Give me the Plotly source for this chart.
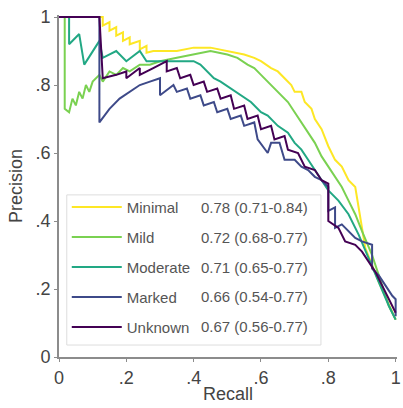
import plotly.graph_objects as go

names = ["Minimal", "Mild", "Moderate", "Marked", "Unknown"]
auc_text = ["0.78 (0.71-0.84)", "0.72 (0.68-0.77)", "0.71 (0.65-0.77)",
            "0.66 (0.54-0.77)", "0.67 (0.56-0.77)"]
colors = ["#fde725", "#7ad151", "#22a884", "#3e4a89", "#440154"]

minimal_r = [0, 0.13, 0.13, 0.15, 0.15, 0.17, 0.17, 0.19, 0.19, 0.21, 0.21, 0.24, 0.24, 0.26, 0.26,
             0.28, 0.35, 0.40, 0.45, 0.50, 0.55, 0.58, 0.60, 0.63, 0.65, 0.67, 0.69, 0.70, 0.72,
             0.73, 0.75, 0.76, 0.78, 0.80, 0.82, 0.84, 0.86, 0.88, 0.89, 0.91, 0.95, 0.99, 1.0]
minimal_p = [1, 1, 0.975, 0.985, 0.96, 0.97, 0.945, 0.955, 0.93, 0.94, 0.92, 0.93, 0.905, 0.915, 0.895,
             0.90, 0.90, 0.91, 0.91, 0.90, 0.89, 0.88, 0.87, 0.85, 0.84, 0.82, 0.80, 0.78, 0.78,
             0.75, 0.73, 0.70, 0.67, 0.62, 0.58, 0.56, 0.52, 0.50, 0.44, 0.32, 0.22, 0.13, 0.11]

mild_r = [0, 0.017, 0.017, 0.03, 0.04, 0.05, 0.06, 0.07, 0.08, 0.09, 0.10, 0.12, 0.13, 0.15, 0.17,
          0.19, 0.21, 0.24, 0.27, 0.30, 0.35, 0.40, 0.45, 0.50, 0.53, 0.56, 0.58, 0.60, 0.62, 0.64,
          0.66, 0.68, 0.70, 0.72, 0.74, 0.76, 0.78, 0.80, 0.82, 0.84, 0.86, 0.88, 0.90, 0.93, 0.96,
          0.98, 1.0]
mild_p = [1, 1, 0.73, 0.72, 0.76, 0.74, 0.78, 0.76, 0.80, 0.78, 0.81, 0.83, 0.81, 0.84, 0.83,
          0.85, 0.84, 0.86, 0.86, 0.87, 0.88, 0.89, 0.90, 0.89, 0.88, 0.86, 0.85, 0.83, 0.81, 0.79,
          0.77, 0.75, 0.72, 0.69, 0.66, 0.63, 0.59, 0.56, 0.53, 0.50, 0.46, 0.42, 0.37, 0.30, 0.21,
          0.15, 0.11]

moderate_r = [0, 0.03, 0.03, 0.06, 0.075, 0.10, 0.12, 0.13, 0.17, 0.20, 0.24, 0.26, 0.30, 0.35,
              0.40, 0.42, 0.44, 0.46, 0.48, 0.51, 0.54, 0.57, 0.60, 0.62, 0.65, 0.68, 0.70, 0.72,
              0.74, 0.76, 0.78, 0.80, 0.83, 0.86, 0.89, 0.92, 0.95, 0.98, 1.0]
moderate_p = [1, 1, 0.92, 0.95, 0.86, 0.90, 0.93, 0.88, 0.90, 0.87, 0.90, 0.87, 0.87, 0.87,
              0.87, 0.86, 0.84, 0.82, 0.81, 0.79, 0.77, 0.75, 0.72, 0.71, 0.68, 0.66, 0.63, 0.61,
              0.58, 0.55, 0.52, 0.49, 0.46, 0.42, 0.36, 0.29, 0.22, 0.15, 0.11]

marked_r = [0, 0.12, 0.12, 0.15, 0.18, 0.21, 0.24, 0.27, 0.30, 0.30, 0.34, 0.35, 0.38, 0.39, 0.42,
            0.43, 0.46, 0.47, 0.50, 0.51, 0.54, 0.55, 0.58, 0.59, 0.62, 0.63, 0.655, 0.67, 0.70,
            0.72, 0.74, 0.76, 0.78, 0.80, 0.80, 0.82, 0.82, 0.84, 0.86, 0.88, 0.90, 0.93, 0.93,
            0.95, 0.97, 0.99, 1.0, 1.0]
marked_p = [1, 1, 0.69, 0.73, 0.76, 0.78, 0.80, 0.81, 0.82, 0.77, 0.80, 0.78, 0.79, 0.76, 0.77,
            0.74, 0.75, 0.72, 0.73, 0.70, 0.71, 0.68, 0.69, 0.64, 0.60, 0.63, 0.63, 0.58, 0.58,
            0.56, 0.55, 0.53, 0.52, 0.50, 0.43, 0.44, 0.38, 0.39, 0.37, 0.35, 0.34, 0.33, 0.26,
            0.24, 0.21, 0.18, 0.17, 0.12]

unknown_r = [0, 0.12, 0.13, 0.17, 0.20, 0.20, 0.24, 0.24, 0.28, 0.32, 0.32, 0.35, 0.36, 0.39, 0.40,
             0.43, 0.44, 0.47, 0.48, 0.51, 0.52, 0.55, 0.56, 0.59, 0.60, 0.63, 0.64, 0.67, 0.68,
             0.71, 0.73, 0.76, 0.78, 0.80, 0.80, 0.83, 0.85, 0.88, 0.90, 0.92, 0.94, 0.96, 0.98, 1.0]
unknown_p = [1, 1, 0.82, 0.83, 0.84, 0.82, 0.85, 0.83, 0.85, 0.87, 0.84, 0.85, 0.82, 0.83, 0.80,
             0.81, 0.78, 0.79, 0.76, 0.77, 0.73, 0.74, 0.70, 0.71, 0.67, 0.68, 0.64, 0.65, 0.61,
             0.60, 0.56, 0.55, 0.52, 0.51, 0.40, 0.38, 0.34, 0.33, 0.31, 0.28, 0.25, 0.21, 0.17, 0.13]

series = [(minimal_r, minimal_p), (mild_r, mild_p), (moderate_r, moderate_p),
          (marked_r, marked_p), (unknown_r, unknown_p)]

fig = go.Figure()
for i, (r, p) in enumerate(series):
    fig.add_trace(go.Scatter(x=r, y=p, mode="lines", name=names[i],
                             line=dict(color=colors[i], width=2),
                             legendgroup=names[i]))

axis_color = "#8c8c8c"
tickvals = [0, 0.2, 0.4, 0.6, 0.8, 1]
ticktext = ["0", ".2", ".4", ".6", ".8", "1"]

fig.update_layout(
    width=403, height=408,
    margin=dict(l=59, r=2, t=15, b=51),
    paper_bgcolor="white", plot_bgcolor="white",
    font=dict(family="Liberation Sans, Arial, sans-serif", color="#333333"),
    xaxis=dict(range=[0, 1.004], tickvals=tickvals, ticktext=ticktext,
               showgrid=False, zeroline=False, showline=True, linecolor=axis_color,
               linewidth=2, ticks="outside", ticklen=3, tickcolor=axis_color,
               ticklabeloverflow="allow",
               tickfont=dict(size=18, color="#444"),
               title=dict(text="Recall", font=dict(size=18, color="#444"), standoff=1)),
    yaxis=dict(range=[0, 1.006], tickvals=tickvals, ticktext=ticktext,
               showgrid=False, zeroline=False, showline=True, linecolor=axis_color,
               linewidth=2, ticks="outside", ticklen=3, tickcolor=axis_color,
               ticklabeloverflow="allow",
               tickfont=dict(size=18, color="#444"),
               title=dict(text="Precision", font=dict(size=18, color="#444"), standoff=8)),
    legend=dict(x=0.023, y=0.486, xanchor="left", yanchor="top",
                bgcolor="rgba(0,0,0,0)", borderwidth=0,
                font=dict(size=15, color="#555"), itemwidth=50,
                tracegroupgap=7.5, traceorder="grouped"),
    showlegend=True,
)

fig.add_shape(type="rect", xref="paper", yref="paper",
              x0=0.023, x1=0.775, y0=0.035, y1=0.474,
              line=dict(color="#dddddd", width=1), fillcolor="white", layer="below")
for i, t in enumerate(auc_text):
    fig.add_annotation(xref="paper", yref="paper", x=0.414, y=0.437 - i * 0.087,
                       text=t, showarrow=False, xanchor="left", yanchor="middle",
                       font=dict(size=15, color="#555"))

fig.write_html("out.html")
